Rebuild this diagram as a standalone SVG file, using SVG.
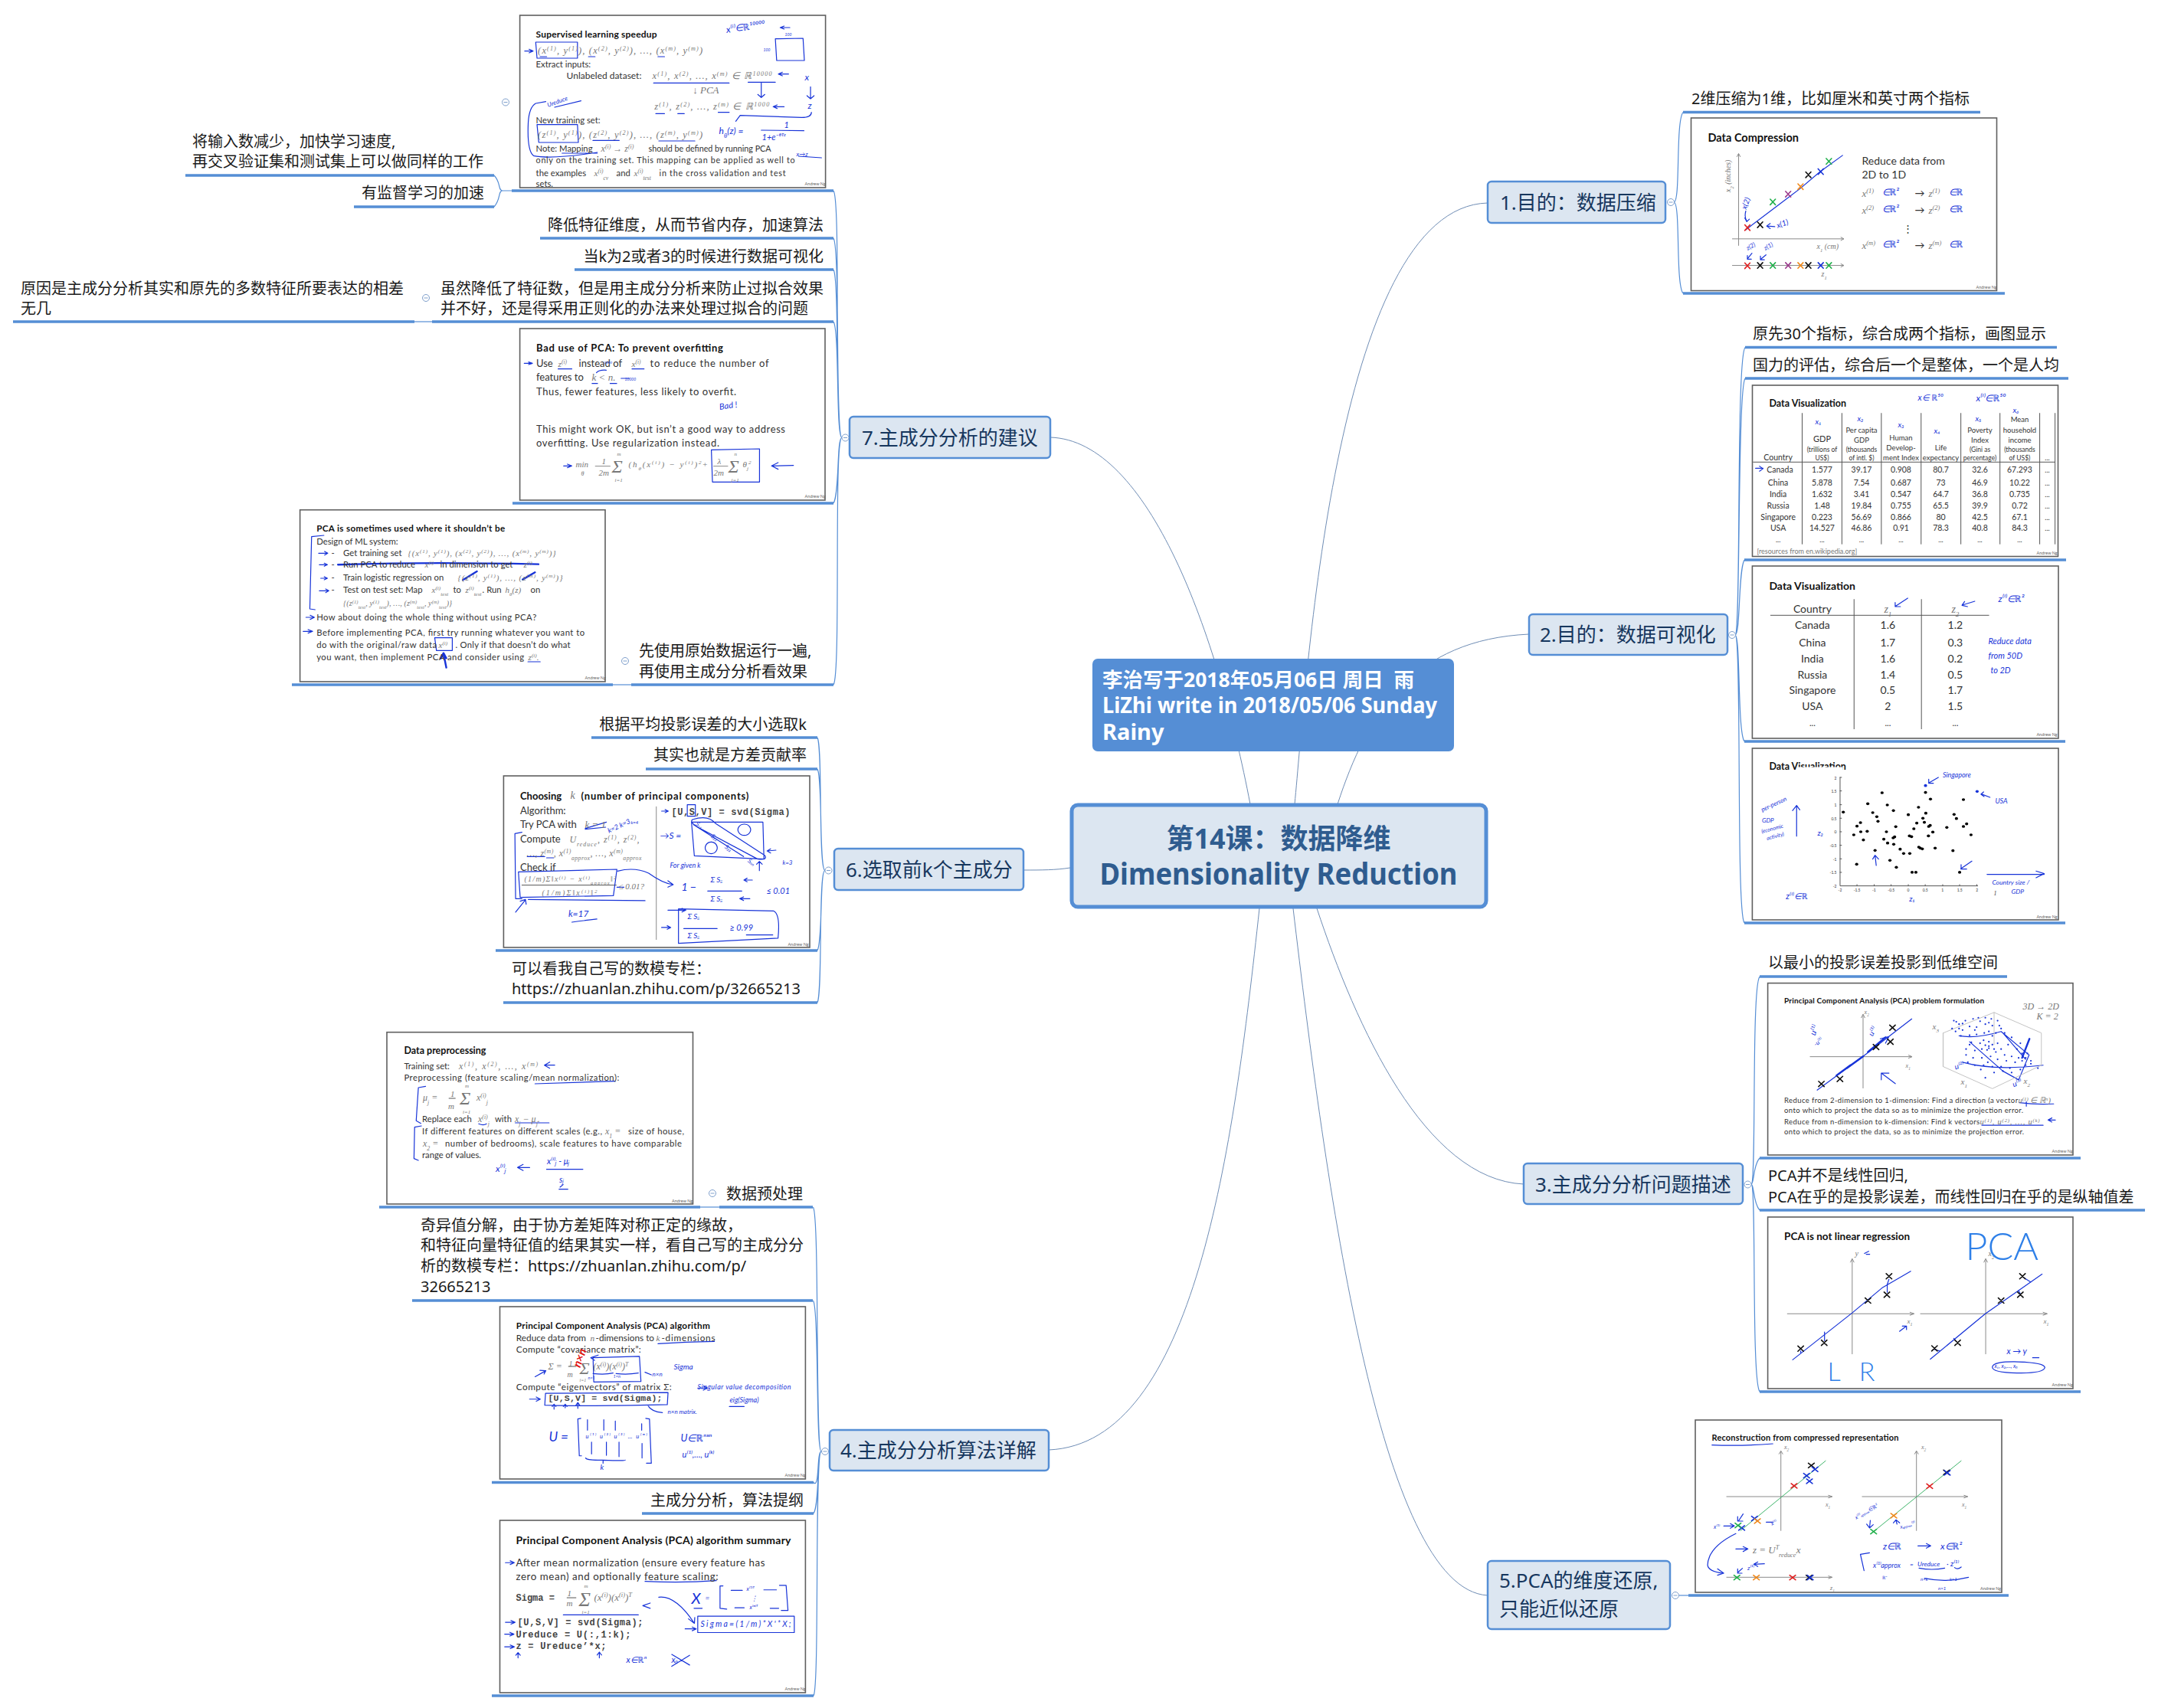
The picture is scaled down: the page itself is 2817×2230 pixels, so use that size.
<svg xmlns="http://www.w3.org/2000/svg" width="2817" height="2230" viewBox="0 0 2817 2230">
<style>
text{font-family:"Noto Sans","Noto Sans CJK SC",sans-serif}
.bg{fill:#fff}
.topic rect{fill:#dce6f1;stroke:#558ed5;stroke-width:2.5}
.topic text{font-size:26px;fill:#17375e}
.sub{font-size:20px;fill:#1a1a1a}
.ul{stroke:#558ed5;stroke-width:3.6;fill:none}
.conn path{fill:none;stroke:#6f8db5;stroke-width:1}
.brk path{fill:none;stroke:#558ed5;stroke-width:1.2}
.col circle{fill:#fff;stroke:#7fa0cc;stroke-width:1}
.col path{stroke:#7fa0cc;stroke-width:1}
.fr{fill:#fff;stroke:#5f5f5f;stroke-width:1.6}
.slide text{font-family:Lato,"Noto Sans",sans-serif;font-size:11.3px;fill:#333}
.slide text.t{font-weight:700;fill:#111}
.slide text.m{font-family:"Liberation Serif",serif;font-style:italic;fill:#777}
.slide text.mono{font-family:"Liberation Mono",monospace;font-weight:700;fill:#444}
.slide text.h{font-style:italic;fill:#1733d8;font-size:10px}
.slide text.an{font-size:5.5px;fill:#666}
.slide text.c{text-anchor:middle}
.s{font-size:65%;baseline-shift:super}
.u{font-size:65%;baseline-shift:sub}
.z *{vector-effect:non-scaling-stroke;fill:none;stroke-linecap:round;stroke-linejoin:round}
.z .hs{stroke:#1733d8;stroke-width:1.2}
.z .ax{stroke:#8a8a8a;stroke-width:1}
.z .dk{stroke:#555;stroke-width:1}
.z .k{stroke:#111;stroke-width:1.6}
.z .r{stroke:#e02020;stroke-width:1.6}
.z .g{stroke:#22b14c;stroke-width:1.6}
.z .gl{stroke:#3fb56b;stroke-width:1}
.z .pu{stroke:#9b3a8c;stroke-width:1.6}
.z .o{stroke:#f08a1d;stroke-width:1.6}
.z .b{stroke:#1733d8;stroke-width:1.6}
.z .lb{stroke:#1733d8;stroke-width:2.4}
.pts circle{r:5.500px;fill:#000}
.pts circle.bl{fill:#1733d8}
</style>
<rect class="bg" width="2817" height="2230"/>

<g id="connectors" class="conn">
<path d="M1690 1050C1705 900 1740 270 1942 265"/>
<path d="M1746 1050C1785 930 1845 835 1996 828"/>
<path d="M1632 1050C1590 830 1500 575 1371 571"/>
<path d="M1397 1133C1378 1136 1360 1136 1336 1136"/>
<path d="M1644 1186C1610 1500 1560 1885 1369 1893"/>
<path d="M1688 1186C1730 1540 1800 2075 1942 2083"/>
<path d="M1719 1186C1770 1340 1860 1540 1989 1546"/>
</g>

<g id="brackets" class="brk">
<path d="M2185 264C2194 264 2187 160 2197 146.500M2185 264C2194 264 2187 370 2197 383"/>
<path d="M2265 829C2273 829 2266 470 2278 453.500M2265 829C2272 829 2268 510 2278 494M2265 829C2272 829 2269 745 2277 731M2265 829C2272 829 2268 955 2277 968M2265 829C2274 829 2266 1190 2277 1205"/>
<path d="M2286 1546C2293 1546 2286 1290 2297 1275M2286 1546C2290 1546 2288 1522 2297 1512M2286 1546C2290 1546 2288 1570 2297 1580M2286 1546C2293 1546 2286 1800 2297 1817"/>
<path d="M2192 2083H2204"/>
<path d="M1099 571.500C1088 571 1098 262 1088 249M1099 571.500C1090 571 1097 325 1088 311M1099 571.500C1090 571 1096 365 1088 352M1099 571.500C1091 571 1096 432 1088 420M1099 571.500C1092 571 1096 645 1088 657M1099 571.500C1088 571 1098 880 1088 894"/>
<path d="M1077 1136.500C1068 1136 1074 975 1067 963M1077 1136.500C1069 1136 1074 1015 1067 1004M1077 1136.500C1070 1136 1074 1230 1067 1241M1077 1136.500C1068 1136 1074 1295 1067 1309"/>
<path d="M1072 1895C1064 1895 1070 1590 1061.500 1576M1072 1895C1065 1895 1069 1710 1061.500 1698M1072 1895C1066 1895 1070 1945 1062 1935.500M1072 1895C1066 1895 1070 1965 1062 1976M1072 1895C1063 1895 1070 2200 1062 2214"/>
<path d="M668 249H656M656 249C650 249 654 238 645 229M656 249C650 249 654 260 645 270"/>
<path d="M541 420H564"/><path d="M800 894H824.500"/><path d="M914 1576H939"/>
</g>

<g id="underlines">
<path class="ul" d="M2197 146.500H2585M2197 383H2617M2278 453.500H2685M2278 494H2700M2277 731H2697M2277 968H2696M2277 1205H2696M2297 1275H2620M2297 1512H2716M2297 1580H2800M2297 1817H2716M2204 2083H2622M668 249H1088M462 270H645M242 229H645M705 311H1088M750 352H1088M564 420H1088M17 420H541M669 657H1088M381 894H800M824 894H1088M772 963H1067M843 1004H1067M647 1241H1067M657 1309H1067M495 1576H914M939 1576H1061M538 1698H1061M642 1935.500H1062M838 1976H1062M642 2214H1062"/>
</g>

<g id="node-center"><rect x="1399" y="1051" width="541" height="133" rx="8" fill="#dce6f1" stroke="#558ed5" stroke-width="5"/>
<text x="1669" y="1108" text-anchor="middle" font-size="36" font-weight="700" fill="#2f5c8f">第14课：数据降维</text>
<text x="1669" y="1155" text-anchor="middle" font-size="40" font-weight="700" fill="#2f5c8f" textLength="467" lengthAdjust="spacingAndGlyphs">Dimensionality Reduction</text></g>
<g id="node-note"><rect x="1426" y="860" width="472" height="121" rx="7" fill="#558ed5"/>
<text x="1439" y="897" font-size="26.500" font-weight="700" fill="#fff" xml:space="preserve">李治写于2018年05月06日 周日  雨</text>
<text x="1439" y="931" font-size="29" font-weight="700" fill="#fff" textLength="437" lengthAdjust="spacingAndGlyphs">LiZhi write in 2018/05/06 Sunday</text>
<text x="1439" y="966" font-size="29" font-weight="700" fill="#fff">Rainy</text></g>

<g id="topic-1" class="topic"><rect x="1942" y="237" width="232" height="54" rx="5"/><text x="1958" y="274">1.目的：数据压缩</text></g>
<g id="topic-2" class="topic"><rect x="1996" y="802" width="259" height="53" rx="5"/><text x="2010" y="838">2.目的：数据可视化</text></g>
<g id="topic-3" class="topic"><rect x="1989" y="1519" width="286" height="53" rx="5"/><text x="2004" y="1556">3.主成分分析问题描述</text></g>
<g id="topic-4" class="topic"><rect x="1083" y="1867" width="286" height="53" rx="5"/><text x="1097" y="1903">4.主成分分析算法详解</text></g>
<g id="topic-5" class="topic"><rect x="1942" y="2038" width="238" height="89" rx="5"/><text x="1957" y="2073">5.PCA的维度还原,</text><text x="1957" y="2110">只能近似还原</text></g>
<g id="topic-6" class="topic"><rect x="1089" y="1108" width="247" height="54" rx="5"/><text x="1104" y="1145">6.选取前k个主成分</text></g>
<g id="topic-7" class="topic"><rect x="1109" y="544" width="262" height="54" rx="5"/><text x="1125" y="581">7.主成分分析的建议</text></g>

<g id="labels" transform="translate(0 1.500)">
<text class="sub" x="2208" y="134">2维压缩为1维，比如厘米和英寸两个指标</text>
<text class="sub" x="2288" y="441">原先30个指标，综合成两个指标，画图显示</text>
<text class="sub" x="2288" y="482">国力的评估，综合后一个是整体，一个是人均</text>
<text class="sub" x="2308" y="1262">以最小的投影误差投影到低维空间</text>
<text class="sub" x="2308" y="1540">PCA并不是线性回归,</text>
<text class="sub" x="2308" y="1568">PCA在乎的是投影误差，而线性回归在乎的是纵轴值差</text>
<text class="sub" x="632" y="257" text-anchor="end">有监督学习的加速</text>
<text class="sub" x="251" y="190">将输入数减少，加快学习速度,</text>
<text class="sub" x="251" y="216">再交叉验证集和测试集上可以做同样的工作</text>
<text class="sub" x="1075" y="299" text-anchor="end">降低特征维度，从而节省内存，加速算法</text>
<text class="sub" x="1075" y="340" text-anchor="end">当k为2或者3的时候进行数据可视化</text>
<text class="sub" x="575" y="382">虽然降低了特征数，但是用主成分分析来防止过拟合效果</text>
<text class="sub" x="575" y="408">并不好，还是得采用正则化的办法来处理过拟合的问题</text>
<text class="sub" x="27" y="382">原因是主成分分析其实和原先的多数特征所要表达的相差</text>
<text class="sub" x="27" y="408">无几</text>
<text class="sub" x="834" y="855">先使用原始数据运行一遍,</text>
<text class="sub" x="834" y="882">再使用主成分分析看效果</text>
<text class="sub" x="1053" y="951" text-anchor="end">根据平均投影误差的大小选取k</text>
<text class="sub" x="1053" y="991" text-anchor="end">其实也就是方差贡献率</text>
<text class="sub" x="668" y="1270">可以看我自己写的数模专栏：</text>
<text class="sub" x="668" y="1296">https://zhuanlan.zhihu.com/p/32665213</text>
<text class="sub" x="948" y="1564">数据预处理</text>
<text class="sub" x="549" y="1605">奇异值分解，由于协方差矩阵对称正定的缘故，</text>
<text class="sub" x="549" y="1631">和特征向量特征值的结果其实一样，看自己写的主成分分</text>
<text class="sub" x="549" y="1658">析的数模专栏：https://zhuanlan.zhihu.com/p/</text>
<text class="sub" x="549" y="1685">32665213</text>
<text class="sub" x="1049" y="1964" text-anchor="end">主成分分析，算法提纲</text>
</g>

<g id="toggles" class="col">
<defs><g id="tg"><circle r="4.500"/><path d="M-2.500 0H2.500"/></g></defs>
<use href="#tg" x="2181" y="264"/><use href="#tg" x="2261" y="829"/><use href="#tg" x="2281.500" y="1546.500"/><use href="#tg" x="2187" y="2083"/>
<use href="#tg" x="1103.500" y="571.500"/><use href="#tg" x="1081.500" y="1136.500"/><use href="#tg" x="1077" y="1895"/>
<use href="#tg" x="660" y="133.500"/><use href="#tg" x="556" y="389"/><use href="#tg" x="816" y="863"/><use href="#tg" x="930" y="1558"/>
</g>

<!-- Data Compression -->
<g id="slide-compression" class="slide">
<rect class="fr" x="2207.500" y="154" width="399" height="225.500"/>
<g class="z" transform="translate(2150 100) scale(.4254 .4082)">
<path class="ax" d="M281 540V248M276 256L281 246L286 256M262 519H603M595 514L604 519L595 524M262 604H603M595 599L604 604L595 609"/>
<path class="hs" d="M303 490L385 425L470 358L530 305L600 252M303 430Q298 450 306 462M300 452L306 464L314 456M392 480L368 478M378 470L367 478L378 486M322 565L308 583M308 572V584H320M365 570L348 585M348 574V586H360"/>
<path class="r" d="M300 474l16 18m0-18l-16 18M300 596l16 18m0-18l-16 18"/>
<path class="k" d="M339 465l16 18m0-18l-16 18M487 305l16 18m0-18l-16 18M339 595l16 18m0-18l-16 18M487 595l16 18m0-18l-16 18"/>
<path class="g" d="M378 392l16 18m0-18l-16 18M550 262l16 18m0-18l-16 18M378 595l16 18m0-18l-16 18M550 595l16 18m0-18l-16 18"/>
<path class="pu" d="M425 367l16 18m0-18l-16 18M425 595l16 18m0-18l-16 18"/>
<path class="o" d="M463 343l16 18m0-18l-16 18M463 595l16 18m0-18l-16 18"/>
<path class="b" d="M525 295l16 18m0-18l-16 18M525 595l16 18m0-18l-16 18"/>
</g>
<g transform="translate(2207.500 154)">
<text class="t" x="22" y="31" style="font-size:14.500px">Data Compression</text>
<text class="m" x="47" y="97" transform="rotate(-90 47 97)" style="font-size:10px" dy="4">x<tspan class="u">2</tspan> (inches)</text>
<text class="m" x="164" y="171" style="font-size:10px">x<tspan class="u">1</tspan> (cm)</text>
<text class="m" x="170" y="207" style="font-size:10px">z<tspan class="u">1</tspan></text>
<text x="223" y="61" style="font-size:14px">Reduce data from</text>
<text x="223" y="79" style="font-size:14px">2D to 1D</text>
<text class="m" x="223" y="103" style="font-size:13px">x<tspan class="s">(1)</tspan></text><text class="h" x="249" y="101" style="font-size:12px">∈ℝ²</text><text x="292" y="103" style="font-size:13px">→</text><text class="m" x="310" y="103" style="font-size:13px">z<tspan class="s">(1)</tspan></text><text class="h" x="336" y="101" style="font-size:12px">∈ℝ</text>
<text class="m" x="223" y="125" style="font-size:13px">x<tspan class="s">(2)</tspan></text><text class="h" x="249" y="123" style="font-size:12px">∈ℝ²</text><text x="292" y="125" style="font-size:13px">→</text><text class="m" x="310" y="125" style="font-size:13px">z<tspan class="s">(2)</tspan></text><text class="h" x="336" y="123" style="font-size:12px">∈ℝ</text>
<text x="276" y="149" style="font-size:13px">⋮</text>
<text class="m" x="223" y="171" style="font-size:13px">x<tspan class="s">(m)</tspan></text><text class="h" x="249" y="169" style="font-size:12px">∈ℝ²</text><text x="292" y="171" style="font-size:13px">→</text><text class="m" x="310" y="171" style="font-size:13px">z<tspan class="s">(m)</tspan></text><text class="h" x="336" y="169" style="font-size:12px">∈ℝ</text>
<text class="h" x="72" y="120" transform="rotate(-70 72 120)">x(2)</text>
<text class="h" x="113" y="144" transform="rotate(-20 113 144)">x(1)</text>
<text class="h" x="74" y="173" transform="rotate(-30 74 173)" style="font-size:8px">z(2)</text>
<text class="h" x="97" y="173" transform="rotate(-30 97 173)" style="font-size:8px">z(1)</text>
<text class="an" x="372" y="223">Andrew Ng</text>
</g></g>

<!-- Data Visualization table -->
<g id="slide-table" class="slide">
<rect class="fr" x="2287.500" y="503" width="399" height="223.500"/>
<g class="z" transform="translate(2150 100) scale(.4254 .4082)">
<path class="dk" d="M476 1077V1495M598 1077V1495M719 1077V1495M841 1077V1495M963 1077V1495M1083 1077V1495M1205 1077V1495M1252 1077V1495M326 1233H1252"/>
<path class="hs" d="M333 1253H356M345 1246L356 1254L345 1262"/>
</g>
<g transform="translate(2287.500 503)">
<text class="t" x="22" y="28" style="font-size:12.500px">Data Visualization</text>
<text class="c" x="33.600" y="98" style="font-size:10.500px">Country</text>
<text class="c" x="91" y="74" style="font-size:11px">GDP</text><text class="c" x="91" y="87" style="font-size:8.500px">(trillions of</text><text class="c" x="91" y="98" style="font-size:8.500px">US$)</text>
<text class="c" x="142.500" y="62" style="font-size:9.500px">Per capita</text><text class="c" x="142.500" y="75" style="font-size:9.500px">GDP</text><text class="c" x="142.500" y="87" style="font-size:8.500px">(thousands</text><text class="c" x="142.500" y="98" style="font-size:8.500px">of intl. $)</text>
<text class="c" x="194" y="72" style="font-size:9.500px">Human</text><text class="c" x="194" y="85" style="font-size:9.500px">Develop-</text><text class="c" x="194" y="98" style="font-size:9.500px">ment Index</text>
<text class="c" x="246" y="85" style="font-size:9.500px">Life</text><text class="c" x="246" y="98" style="font-size:9.500px">expectancy</text>
<text class="c" x="297" y="62" style="font-size:9.500px">Poverty</text><text class="c" x="297" y="75" style="font-size:9.500px">Index</text><text class="c" x="297" y="87" style="font-size:8.500px">(Gini as</text><text class="c" x="297" y="98" style="font-size:8.500px">percentage)</text>
<text class="c" x="349" y="48" style="font-size:9.500px">Mean</text><text class="c" x="349" y="62" style="font-size:9.500px">household</text><text class="c" x="349" y="75" style="font-size:9.500px">income</text><text class="c" x="349" y="87" style="font-size:8.500px">(thousands</text><text class="c" x="349" y="98" style="font-size:8.500px">of US$)</text>
<text class="c" x="385" y="98" style="font-size:9px">...</text>
<g id="tbl1rows">
<text class="c" x="36" y="113.500" style="font-size:10.500px">Canada</text><text class="c" x="91" y="113.500" style="font-size:10.500px">1.577</text><text class="c" x="142.500" y="113.500" style="font-size:10.500px">39.17</text><text class="c" x="194" y="113.500" style="font-size:10.500px">0.908</text><text class="c" x="246" y="113.500" style="font-size:10.500px">80.7</text><text class="c" x="297" y="113.500" style="font-size:10.500px">32.6</text><text class="c" x="349" y="113.500" style="font-size:10.500px">67.293</text><text class="c" x="385" y="113.500" style="font-size:9px">...</text>
<text class="c" x="33.600" y="130.600" style="font-size:10.500px">China</text><text class="c" x="91" y="130.600" style="font-size:10.500px">5.878</text><text class="c" x="142.500" y="130.600" style="font-size:10.500px">7.54</text><text class="c" x="194" y="130.600" style="font-size:10.500px">0.687</text><text class="c" x="246" y="130.600" style="font-size:10.500px">73</text><text class="c" x="297" y="130.600" style="font-size:10.500px">46.9</text><text class="c" x="349" y="130.600" style="font-size:10.500px">10.22</text><text class="c" x="385" y="130.600" style="font-size:9px">...</text>
<text class="c" x="33.600" y="145.700" style="font-size:10.500px">India</text><text class="c" x="91" y="145.700" style="font-size:10.500px">1.632</text><text class="c" x="142.500" y="145.700" style="font-size:10.500px">3.41</text><text class="c" x="194" y="145.700" style="font-size:10.500px">0.547</text><text class="c" x="246" y="145.700" style="font-size:10.500px">64.7</text><text class="c" x="297" y="145.700" style="font-size:10.500px">36.8</text><text class="c" x="349" y="145.700" style="font-size:10.500px">0.735</text><text class="c" x="385" y="145.700" style="font-size:9px">...</text>
<text class="c" x="33.600" y="160.500" style="font-size:10.500px">Russia</text><text class="c" x="91" y="160.500" style="font-size:10.500px">1.48</text><text class="c" x="142.500" y="160.500" style="font-size:10.500px">19.84</text><text class="c" x="194" y="160.500" style="font-size:10.500px">0.755</text><text class="c" x="246" y="160.500" style="font-size:10.500px">65.5</text><text class="c" x="297" y="160.500" style="font-size:10.500px">39.9</text><text class="c" x="349" y="160.500" style="font-size:10.500px">0.72</text><text class="c" x="385" y="160.500" style="font-size:9px">...</text>
<text class="c" x="33.600" y="175.500" style="font-size:10.500px">Singapore</text><text class="c" x="91" y="175.500" style="font-size:10.500px">0.223</text><text class="c" x="142.500" y="175.500" style="font-size:10.500px">56.69</text><text class="c" x="194" y="175.500" style="font-size:10.500px">0.866</text><text class="c" x="246" y="175.500" style="font-size:10.500px">80</text><text class="c" x="297" y="175.500" style="font-size:10.500px">42.5</text><text class="c" x="349" y="175.500" style="font-size:10.500px">67.1</text><text class="c" x="385" y="175.500" style="font-size:9px">...</text>
<text class="c" x="33.600" y="190" style="font-size:10.500px">USA</text><text class="c" x="91" y="190" style="font-size:10.500px">14.527</text><text class="c" x="142.500" y="190" style="font-size:10.500px">46.86</text><text class="c" x="194" y="190" style="font-size:10.500px">0.91</text><text class="c" x="246" y="190" style="font-size:10.500px">78.3</text><text class="c" x="297" y="190" style="font-size:10.500px">40.8</text><text class="c" x="349" y="190" style="font-size:10.500px">84.3</text><text class="c" x="385" y="190" style="font-size:9px">...</text>
<text class="c" x="33.600" y="205" style="font-size:9px">...</text><text class="c" x="91" y="205" style="font-size:9px">...</text><text class="c" x="142.500" y="205" style="font-size:9px">...</text><text class="c" x="194" y="205" style="font-size:9px">...</text><text class="c" x="246" y="205" style="font-size:9px">...</text><text class="c" x="297" y="205" style="font-size:9px">...</text><text class="c" x="349" y="205" style="font-size:9px">...</text>
</g>
<text x="6" y="220" style="font-size:9px;fill:#777">[resources from en.wikipedia.org]</text>
<text class="h" x="82" y="51">x₁</text><text class="h" x="137" y="47">x₂</text><text class="h" x="190" y="55">x₃</text><text class="h" x="237" y="63">x₄</text><text class="h" x="291" y="47">x₅</text><text class="h" x="340" y="36">x₆</text>
<text class="h" x="216" y="20" style="font-size:11px">x∈ ℝ⁵⁰</text><text class="h" x="292" y="21" style="font-size:12px">x⁽ⁱ⁾∈ℝ⁵⁰</text>
<text class="an" x="371" y="221">Andrew Ng</text>
</g></g>

<!-- Data Visualization z table -->
<g id="slide-z-table" class="slide">
<rect class="fr" x="2287.400" y="739" width="399.600" height="225"/>
<g class="z" transform="translate(2220 720) scale(.3807 .3333)">
<path class="dk" d="M526 188V695M757 188V695M240 250H988"/>
<path class="hs" d="M710 183L667 215M667 200V216H685M940 195L897 210M905 196L896 211L915 216"/>
</g>
<g transform="translate(2287.400 739)">
<text class="t" x="22" y="30.700" style="font-size:14px">Data Visualization</text>
<text class="c" x="78.500" y="61" style="font-size:14px">Country</text><text class="m c" x="177" y="61" style="font-size:14px">z<tspan class="u">1</tspan></text><text class="m c" x="265" y="61" style="font-size:14px">z<tspan class="u">2</tspan></text>
<text class="c" x="78.500" y="81.700" style="font-size:14px">Canada</text><text class="c" x="177" y="81.700" style="font-size:14px">1.6</text><text class="c" x="265" y="81.700" style="font-size:14px">1.2</text>
<text class="c" x="78.500" y="105" style="font-size:14px">China</text><text class="c" x="177" y="105" style="font-size:14px">1.7</text><text class="c" x="265" y="105" style="font-size:14px">0.3</text>
<text class="c" x="78.500" y="126" style="font-size:14px">India</text><text class="c" x="177" y="126" style="font-size:14px">1.6</text><text class="c" x="265" y="126" style="font-size:14px">0.2</text>
<text class="c" x="78.500" y="146.700" style="font-size:14px">Russia</text><text class="c" x="177" y="146.700" style="font-size:14px">1.4</text><text class="c" x="265" y="146.700" style="font-size:14px">0.5</text>
<text class="c" x="78.500" y="167" style="font-size:14px">Singapore</text><text class="c" x="177" y="167" style="font-size:14px">0.5</text><text class="c" x="265" y="167" style="font-size:14px">1.7</text>
<text class="c" x="78.500" y="188" style="font-size:14px">USA</text><text class="c" x="177" y="188" style="font-size:14px">2</text><text class="c" x="265" y="188" style="font-size:14px">1.5</text>
<text class="c" x="78.500" y="209">...</text><text class="c" x="177" y="209">...</text><text class="c" x="265" y="209">...</text>
<text class="h" x="321" y="47" style="font-size:12px">z⁽ⁱ⁾∈ℝ²</text>
<text class="h" x="308" y="102" style="font-size:11px">Reduce data</text><text class="h" x="308" y="121" style="font-size:11px">from  50D</text><text class="h" x="311" y="140" style="font-size:11px">to  2D</text>
<text class="an" x="371" y="222">Andrew Ng</text>
</g></g>

<!-- Scatter -->
<g id="slide-scatter" class="slide">
<rect class="fr" x="2287.400" y="977" width="399.600" height="224"/>
<g transform="translate(2287.400 977)">
<text class="t" x="22" y="28" style="font-size:12.500px">Data Visualization</text>
<rect x="58" y="24.500" width="60" height="8" fill="#fff"/>
</g>
<g class="z" transform="translate(2220 720) scale(.3807 .3333)">
<path class="dk" d="M478 885V1310H950M478 885h5M478 938h5M478 992h5M478 1045h5M478 1098h5M478 1151h5M478 1204h5M478 1257h5M536 1310v-5M595 1310v-5M653 1310v-5M712 1310v-5M770 1310v-5M830 1310v-5M888 1310v-5M947 1310v-5"/>
<path class="hs" d="M329 1115V995M315 1015L329 995L340 1012M815 885L782 907M782 892V908H798M992 963L962 950M970 942L961 951L972 960M602 1230L598 1190M590 1205L598 1190L610 1205M930 1213L892 1243M893 1227V1244H912M982 1265H1178M1150 1252L1178 1262L1150 1278"/>
</g>
<g class="pts" transform="translate(2220 720) scale(.3807 .3333)">
<circle cx="489" cy="1021"/><circle cx="536" cy="1076"/><circle cx="548" cy="1062"/><circle cx="525" cy="1110"/><circle cx="549" cy="1098"/><circle cx="571" cy="1096"/><circle cx="558" cy="1130"/><circle cx="573" cy="988"/><circle cx="590" cy="1023"/><circle cx="604" cy="1039"/><circle cx="608" cy="1057"/><circle cx="622" cy="945"/><circle cx="640" cy="993"/><circle cx="661" cy="1015"/><circle cx="669" cy="1078"/><circle cx="637" cy="1098"/><circle cx="628" cy="1127"/><circle cx="641" cy="1142"/><circle cx="662" cy="1147"/><circle cx="660" cy="1122"/><circle cx="665" cy="1118"/><circle cx="684" cy="1166"/><circle cx="696" cy="1183"/><circle cx="717" cy="1183"/><circle cx="598" cy="1171"/><circle cx="535" cy="1225"/><circle cx="649" cy="1210"/><circle cx="671" cy="1237"/><circle cx="725" cy="1257"/><circle cx="738" cy="1257"/><circle cx="712" cy="1031"/><circle cx="716" cy="1114"/><circle cx="723" cy="1117"/><circle cx="731" cy="1086"/><circle cx="741" cy="1064"/><circle cx="747" cy="1002"/><circle cx="762" cy="1045"/><circle cx="767" cy="1061"/><circle cx="772" cy="1025"/><circle cx="788" cy="970"/><circle cx="771" cy="944"/><circle cx="782" cy="1077"/><circle cx="787" cy="1073"/><circle cx="796" cy="1099"/><circle cx="781" cy="1114"/><circle cx="748" cy="1158"/><circle cx="753" cy="1162"/><circle cx="760" cy="1165"/><circle cx="804" cy="1162"/><circle cx="844" cy="1081"/><circle cx="869" cy="1030"/><circle cx="877" cy="1046"/><circle cx="901" cy="972"/><circle cx="901" cy="1077"/><circle cx="912" cy="1067"/><circle cx="927" cy="1110"/><circle cx="865" cy="1172"/><circle cx="888" cy="1257"/>
<circle class="bl" cx="771" cy="917"/><circle class="bl" cx="948" cy="940"/>
</g>
<g transform="translate(2287.400 977)">
<text x="110" y="41" text-anchor="end" style="font-size:5px">2</text><text x="110" y="58" text-anchor="end" style="font-size:5px">1.5</text><text x="110" y="76" text-anchor="end" style="font-size:5px">1</text><text x="110" y="94" text-anchor="end" style="font-size:5px">0.5</text><text x="110" y="111" text-anchor="end" style="font-size:5px">0</text><text x="110" y="129" text-anchor="end" style="font-size:5px">-0.5</text><text x="110" y="147" text-anchor="end" style="font-size:5px">-1</text><text x="110" y="164" text-anchor="end" style="font-size:5px">-1.5</text><text x="110" y="182" text-anchor="end" style="font-size:5px">-2</text>
<text class="c" x="114.600" y="187" style="font-size:5px">-2</text><text class="c" x="136.700" y="187" style="font-size:5px">-1.5</text><text class="c" x="159" y="187" style="font-size:5px">-1</text><text class="c" x="181.300" y="187" style="font-size:5px">-0.5</text><text class="c" x="203.600" y="187" style="font-size:5px">0</text><text class="c" x="225.800" y="187" style="font-size:5px">0.5</text><text class="c" x="248.300" y="187" style="font-size:5px">1</text><text class="c" x="270.800" y="187" style="font-size:5px">1.5</text><text class="c" x="293.200" y="187" style="font-size:5px">2</text>
<text class="h" x="13" y="83" transform="rotate(-25 13 83)" style="font-size:8px">per-person</text>
<text class="h" x="12.600" y="97" style="font-size:8px">GDP</text>
<text class="h" x="12.600" y="111" transform="rotate(-15 12.600 111)" style="font-size:7px">(economic</text>
<text class="h" x="19.400" y="120" transform="rotate(-15 19.400 120)" style="font-size:7px">activity)</text>
<text class="h" x="85" y="114">z₂</text>
<text class="h" x="248.600" y="38" style="font-size:9px">Singapore</text>
<text class="h" x="317" y="72" style="font-size:9px">USA</text>
<text class="h" x="43.800" y="197" style="font-size:11px">z⁽ⁱ⁾∈ℝ</text>
<text class="h" x="204.800" y="200">z₁</text>
<text class="h" x="313" y="178" style="font-size:8.500px">Country size /</text>
<text class="h" x="338" y="190" style="font-size:8.500px">GDP</text>
<text class="m" x="315" y="192" style="font-size:8px;fill:#444">1</text>
<text class="an" x="371" y="222">Andrew Ng</text>
</g></g>

<!-- PCA problem formulation -->
<g id="slide-problem" class="slide">
<rect class="fr" x="2307.600" y="1283.600" width="398.400" height="224.400"/>
<g class="z" transform="translate(2100 1230) scale(.4573 .3827)">
<path class="ax" d="M726 498V248M721 258L726 246L731 258M575 391H865M856 386L866 391L856 396"/>
<path class="hs" d="M595 505L726 390L865 262M775 330L800 322L790 345M778 470V447H800M778 447L818 483M1000 320Q1050 330 1120 305L1200 385L1170 470M1010 410Q1100 440 1240 420M1030 340L1125 440L1170 470M1125 310L1190 400M1172 548Q1220 555 1270 552M1065 625H1240M1275 607H1255M1265 600L1254 607L1265 614M1192 560V545"/>
<path class="lb" d="M680 430L726 390M650 455L690 420M790 325L740 375M1201 330L1180 395"/>
<path class="k" d="M802 283l16 18m0-18l-16 18M796 331l16 18m0-18l-16 18M755 349l16 18m0-18l-16 18M652 458l16 18m0-18l-16 18M599 475l16 18m0-18l-16 18"/>
<path class="ax" d="M955 310L1100 240L1235 310V420L1095 500L955 425ZM955 310V425M1100 240V350" style="stroke:#c4c4c4"/>
<path class="lb" style="stroke-width:2.200" d="M985 268h.1M1000 280h.1M1018 268h.1M1040 262h.1M1055 258h.1M1075 258h.1M1092 262h.1M1110 268h.1M1120 295h.1M1095 285h.1M1075 280h.1M1050 290h.1M1030 288h.1M1010 300h.1M990 305h.1M980 295h.1M1005 320h.1M1030 318h.1M1050 315h.1M1072 310h.1M1095 320h.1M1130 310h.1M1150 325h.1M1175 345h.1M1165 365h.1M1140 350h.1M1110 345h.1M1085 340h.1M1060 345h.1M1035 342h.1M1020 365h.1M1045 370h.1M1065 365h.1M1085 362h.1M1105 375h.1M1130 385h.1M1150 390h.1M1170 395h.1M1195 380h.1M1205 405h.1M1225 430h.1M1190 420h.1M1160 410h.1M1135 405h.1M1110 400h.1M1090 390h.1M1065 395h.1M1040 395h.1M1020 385h.1M1025 410h.1M1045 420h.1M1070 420h.1M1095 425h.1M1120 425h.1M1145 430h.1M1175 435h.1M1205 415h.1M1075 463h.1M1100 445h.1M1125 440h.1M1150 445h.1M1062 435h.1M1082 410h.1M1030 350h.1M1000 295h.1M1060 270h.1M1085 275h.1M1115 285h.1M1105 310h.1M1085 305h.1M1070 335h.1M1095 350h.1M1120 365h.1M1180 380h.1M1190 395h.1M1180 405h.1M1075 352h.1M1085 355h.1M1080 368h.1M1100 365h.1M1045 300h.1M1010 278h.1M992 272h.1"/>
</g>
<g transform="translate(2307.600 1283.600)">
<text class="t" x="21.500" y="26" style="font-size:10px" textLength="261">Principal Component Analysis (PCA) problem formulation</text>
<text class="m" x="333" y="34" style="font-size:12px">3D → 2D</text><text class="m" x="351" y="47" style="font-size:12px">K = 2</text>
<text class="m" x="126" y="40" style="font-size:8px">x<tspan class="u">2</tspan></text><text class="m" x="180" y="110" style="font-size:8px">x<tspan class="u">1</tspan></text>
<text class="m" x="215" y="60" style="font-size:11px">x<tspan class="u">3</tspan></text><text class="m" x="252" y="132" style="font-size:11px">x<tspan class="u">1</tspan></text><text class="m" x="334" y="131" style="font-size:11px">x<tspan class="u">2</tspan></text>
<text class="h" x="62" y="69" transform="rotate(-70 62 69)" style="font-size:11px">u⁽¹⁾</text><text class="h" x="63" y="83" transform="rotate(-40 63 83)" style="font-size:8px">-u⁽¹⁾</text><text class="h" x="137" y="70" transform="rotate(-60 137 70)">u⁽¹⁾</text>
<text class="h" x="245" y="113" transform="rotate(-15 245 113)">u⁽²⁾</text><text class="h" x="321" y="136" transform="rotate(-20 321 136)">u⁽³⁾</text>
<text x="21.500" y="156" style="font-size:9.500px" textLength="305">Reduce from 2-dimension to 1-dimension: Find a direction (a vector</text><text class="m" x="327" y="156" style="font-size:10.500px">u<tspan class="s">(1)</tspan> ∈ ℝ<tspan class="s">n</tspan>)</text>
<text x="21.500" y="169" style="font-size:9.500px" textLength="312">onto which to project the data so as to minimize the projection error.</text>
<text x="21.500" y="184" style="font-size:9.500px" textLength="255">Reduce from n-dimension to k-dimension: Find k vectors</text><text class="m" x="277" y="184" style="font-size:10.500px" textLength="78">u<tspan class="s">(1)</tspan>, u<tspan class="s">(2)</tspan>, …, u<tspan class="s">(k)</tspan></text>
<text x="21.500" y="197" style="font-size:9.500px" textLength="313">onto which to project the data, so as to minimize the projection error.</text>
<text class="an" x="371" y="221">Andrew Ng</text>
</g></g>

<!-- PCA is not linear regression -->
<g id="slide-not-lr" class="slide">
<rect class="fr" x="2307.600" y="1589" width="398.400" height="224"/>
<g class="z" transform="translate(2100 1230) scale(.4573 .3827)">
<path class="ax" d="M695 1405V1082M690 1092L695 1080L700 1092M510 1268H870M860 1263L872 1268L860 1273M1076 1405V1082M1071 1092L1076 1080L1081 1092M890 1268H1250M1240 1263L1252 1268L1240 1273"/>
<path class="hs" d="M525 1425L695 1265L780 1180L862 1123M918 1423L1075 1268L1237 1133M800 1150L795 1168M795 1195V1170M616 1360V1330M548 1395V1400M1185 1145L1205 1160M1175 1200L1170 1190M990 1360L985 1352M930 1390L945 1395M735 1065H745M730 1062L742 1055M830 1328L850 1310M838 1310H850V1322M1095 1450Q1095 1430 1170 1432Q1245 1435 1245 1452Q1240 1472 1165 1470Q1095 1468 1095 1450ZM1210 1418H1228"/>
<path class="k" d="M792 1131l16 18m0-18l-16 18M786 1194l16 18m0-18l-16 18M732 1214l16 18m0-18l-16 18M607 1358l16 18m0-18l-16 18M540 1378l16 18m0-18l-16 18M1173 1131l16 18m0-18l-16 18M1167 1194l16 18m0-18l-16 18M1112 1214l16 18m0-18l-16 18M988 1358l16 18m0-18l-16 18M922 1377l16 18m0-18l-16 18"/>
</g>
<g transform="translate(2307.600 1589)">
<text class="t" x="21.500" y="30" style="font-size:13.500px">PCA is not linear regression</text>
<text class="m" x="114" y="51" style="font-size:10px">y</text><text class="m" x="182" y="139" style="font-size:9px">x<tspan class="u">1</tspan></text><text class="m" x="288" y="51" style="font-size:10px">x<tspan class="u">2</tspan></text><text class="m" x="360" y="139" style="font-size:9px">x<tspan class="u">1</tspan></text>
<text x="258" y="56" style="font-size:50px;fill:#2f80e8;font-weight:300">PCA</text>
<text x="78" y="214" style="font-size:34px;fill:#2f80e8;font-weight:300">L<tspan x="110"> R</tspan></text>
<text class="h" x="312" y="179" style="font-size:11px">x → y</text>
<text class="h" x="296" y="197" style="font-size:7px">x₁, x₂,…, xₙ</text>
<text class="an" x="371" y="221">Andrew Ng</text>
</g></g>

<!-- Reconstruction -->
<g id="slide-reconstruction" class="slide">
<rect class="fr" x="2213" y="1854" width="400" height="225"/>
<g class="z" transform="translate(1900 1830) scale(.4783 .3333)">
<path class="ax" d="M888 505V195M883 205L888 193L893 205M740 372H1027M1018 367L1028 372L1018 377M1258 505V195M1253 205L1258 193L1263 205M1110 372H1397M1388 367L1398 372L1388 377M740 688H1027M1018 683L1028 688L1018 693"/>
<path class="gl" d="M778 505L1010 232M1140 510L1380 232"/>
<path class="hs" d="M700 170Q780 175 866 165M765 577H798M785 568L798 577L785 587M765 517Q690 570 688 640Q690 665 730 672M715 655L732 672L715 680M732 487H760M750 478L761 487L750 496M785 440L772 468M770 450V468H784M848 472H866M1132 465L1130 495M1122 480L1130 495L1140 482M1205 480L1202 465M1195 475L1202 463L1212 475M770 670L783 653M770 655V672H782M843 635L815 637M825 628L814 637L825 646M1262 565H1295M1285 556L1297 565L1285 574M1130 592L1105 598L1115 662M1265 652Q1300 662 1335 652M1362 650Q1370 660 1380 648M1280 692Q1340 710 1400 688"/>
<path class="k" d="M963 241l16 18m0-18l-16 18M1332 268l16 18m0-18l-16 18M957 680l16 18m0-18l-16 18"/>
<path class="b" d="M973 256l16 18m0-18l-16 18M950 281l16 18m0-18l-16 18M958 303l16 18m0-18l-16 18M808 449l16 18m0-18l-16 18M773 486l16 18m0-18l-16 18M1334 270l16 18m0-18l-16 18M960 680l16 18m0-18l-16 18"/>
<path class="r" d="M916 321l16 18m0-18l-16 18M1286 322l16 18m0-18l-16 18M912 680l16 18m0-18l-16 18"/>
<path class="o" d="M816 459l16 18m0-18l-16 18M1188 438l16 18m0-18l-16 18M813 680l16 18m0-18l-16 18"/>
<path class="g" d="M763 476l16 18m0-18l-16 18M1133 500l16 18m0-18l-16 18M760 680l16 18m0-18l-16 18"/>
</g>
<g transform="translate(2213 1854)">
<text class="t" x="21.500" y="27" style="font-size:11px" textLength="244">Reconstruction from compressed representation</text>
<text class="m" x="116" y="38" style="font-size:8px">x<tspan class="u">2</tspan></text><text class="m" x="295" y="38" style="font-size:8px">x<tspan class="u">2</tspan></text><text class="m" x="170" y="113" style="font-size:8px">x<tspan class="u">1</tspan></text><text class="m" x="348" y="113" style="font-size:8px">x<tspan class="u">1</tspan></text>
<text class="m" x="75" y="174" style="font-size:13px">z = U<tspan class="s">T</tspan><tspan class="u">reduce</tspan>x</text>
<text class="h" x="24" y="142" style="font-size:7px">x⁽¹⁾</text><text class="h" x="100" y="138" transform="rotate(-25 100 138)" style="font-size:7px">x⁽¹⁾</text>
<text class="h" x="68" y="196" style="font-size:8px">z⁽¹⁾</text>
<text class="m" x="176" y="222" style="font-size:8px">z<tspan class="u">1</tspan></text>
<text class="h" x="210" y="130" transform="rotate(-30 210 130)" style="font-size:7px">x⁽¹⁾ₐₚₚᵣₒₓ∈ℝ²</text>
<text class="h" x="268" y="142" transform="rotate(-15 268 142)" style="font-size:7px">xₐₚₚᵣₒₓ⁽²⁾</text>
<text class="h" x="245" y="169" style="font-size:12px">z∈ℝ</text><text class="h" x="320" y="169" style="font-size:12px">x∈ℝ²</text>
<text class="h" x="232" y="193" style="font-size:9px">x⁽¹⁾approx</text>
<text class="h" x="280" y="191" style="font-size:8px">=</text>
<text class="h" x="290" y="191" style="font-size:8.500px">Ureduce</text>
<text class="h" x="328" y="191">· z⁽¹⁾</text>
<text class="h" x="244" y="208" style="font-size:6px">ℝⁿ</text>
<text class="h" x="294" y="210" style="font-size:6px">n×k</text><text class="h" x="332" y="210" style="font-size:6px">k×1</text><text class="h" x="317" y="222" style="font-size:6px">n×1</text>
<text class="an" x="372" y="222">Andrew Ng</text>
</g></g>

<!-- Supervised -->
<g id="slide-supervised" class="slide">
<rect class="fr" x="678.600" y="20" width="399" height="225"/>
<g class="z" transform="translate(220 0) scale(.574 .3333)">
<path class="hs" d="M835 165H930V228H838ZM810 200H828M820 193L829 200L820 207M845 222H860M955 222H970M1113 222H1128M1380 152L1443 150L1446 237L1383 237ZM1413 108H1392M1400 102L1391 108L1400 114M1103 325L1275 325M1318 322H1380M1348 325V380M1340 370L1348 382L1356 370M1410 290H1388M1396 283L1387 290L1396 297M1460 340V385M1452 375L1460 387L1468 375M1400 418H1376M1384 411L1375 418L1384 425M1462 440Q1462 460 1440 460L1300 452L1290 475M878 420L938 395M858 398L835 405Q820 420 818 480Q815 590 830 610Q870 625 975 597M838 488L930 488L932 558L842 558ZM1108 445H1128M1158 445H1173M1250 440H1275M965 550H1025M1115 552H1197M1348 510L1445 512M1433 612L1485 618M895 600H975"/>
</g>
<g transform="translate(678.600 20)">
<text class="t" x="21" y="28.700" style="font-size:12px" textLength="158">Supervised learning speedup</text>
<text class="m" x="23.500" y="49.700" style="font-size:12.500px" textLength="215">(x<tspan class="s">(1)</tspan>, y<tspan class="s">(1)</tspan>), (x<tspan class="s">(2)</tspan>, y<tspan class="s">(2)</tspan>), …, (x<tspan class="s">(m)</tspan>, y<tspan class="s">(m)</tspan>)</text>
<text x="21" y="68">Extract inputs:</text>
<text x="61" y="83" style="font-size:12px">Unlabeled dataset:</text>
<text class="m" x="173" y="83" style="font-size:12.500px" textLength="156">x<tspan class="s">(1)</tspan>, x<tspan class="s">(2)</tspan>, …, x<tspan class="s">(m)</tspan> ∈ ℝ<tspan class="s">10000</tspan></text>
<text class="m" x="225.600" y="102" style="font-size:13px">↓ PCA</text>
<text class="m" x="175.600" y="123" style="font-size:12.500px" textLength="150">z<tspan class="s">(1)</tspan>, z<tspan class="s">(2)</tspan>, …, z<tspan class="s">(m)</tspan> ∈ ℝ<tspan class="s">1000</tspan></text>
<text x="21" y="140.600">New training set:</text>
<text class="m" x="23.500" y="159.700" style="font-size:12.500px" textLength="215">(z<tspan class="s">(1)</tspan>, y<tspan class="s">(1)</tspan>), (z<tspan class="s">(2)</tspan>, y<tspan class="s">(2)</tspan>), …, (z<tspan class="s">(m)</tspan>, y<tspan class="s">(m)</tspan>)</text>
<text x="21" y="178">Note: Mapping</text><text class="m" x="106" y="178" style="font-size:12px">x<tspan class="s">(i)</tspan> → z<tspan class="s">(i)</tspan></text><text x="168" y="178" style="font-size:10.800px" textLength="160">should be defined by running PCA</text>
<text x="21" y="193" style="font-size:10.800px" textLength="338">only on the training set. This mapping can be applied as well to</text>
<text x="21" y="209.700">the examples</text><text class="m" x="97" y="209.700">x<tspan class="s">(i)</tspan><tspan class="u">cv</tspan></text><text x="126" y="209.700">and</text><text class="m" x="149" y="209.700">x<tspan class="s">(i)</tspan><tspan class="u">test</tspan></text><text x="182" y="209.700" style="font-size:10.800px" textLength="165">in the cross validation and test</text>
<text x="21" y="224">sets.</text>
<text class="h" x="270" y="23" transform="rotate(-8 270 23)" style="font-size:12px">x⁽ⁱ⁾∈ℝ¹⁰⁰⁰⁰</text>
<text class="h" x="346" y="27" style="font-size:5px">100</text><text class="h" x="318" y="47" style="font-size:5px">100</text>
<text class="h" x="372" y="85" style="font-size:12px">x</text><text class="h" x="376" y="122" style="font-size:12px">z</text>
<text class="h" x="37" y="120" transform="rotate(-20 37 120)" style="font-size:8px">Ureduce</text>
<text class="h" x="260" y="155" style="font-size:12px">h<tspan class="u">θ</tspan>(z) =</text>
<text class="h" x="345" y="147" style="font-size:11px">1</text><text class="h" x="316" y="163" style="font-size:11px">1+e⁻ᶿᵀᶻ</text>
<text class="h" x="361" y="184" style="font-size:8px">x→z</text>
<text class="an" x="372" y="222">Andrew Ng</text>
</g></g>

<!-- Bad use -->
<g id="slide-bad-use" class="slide">
<rect class="fr" x="678.600" y="429" width="398.400" height="224"/>
<g class="z" transform="translate(0 340) scale(.7143 .3333)">
<path class="hs" d="M1300 742L1388 738L1388 868L1302 868ZM1450 803L1412 805M1422 792L1410 805L1422 818M1030 805H1044M1037 798L1045 805L1037 812M958 403H972M966 398L973 403L966 408M1020 425H1045M1155 425H1177M1082 482H1092M1115 482H1127M1135 462H1150M1090 440Q1095 428 1108 430"/>
<path class="ax" d="M1088 806H1115M1304 806H1330"/>
</g>
<g transform="translate(678.600 429)">
<text class="t" x="21.400" y="30" style="font-size:13px" textLength="244">Bad use of PCA: To prevent overfitting</text>
<text x="21.400" y="50" style="font-size:13px">Use</text><text class="m" x="50" y="50">z<tspan class="s">(i)</tspan></text><text x="77" y="50" style="font-size:13px">instead of</text><text class="m" x="146" y="50">x<tspan class="s">(i)</tspan></text><text x="170" y="50" style="font-size:13px" textLength="155">to reduce the number of</text>
<text x="21.400" y="68" style="font-size:13px">features to</text><text class="m" x="94" y="68" style="font-size:13px">k &lt; n.</text>
<text x="21.400" y="87" style="font-size:13px" textLength="261">Thus, fewer features, less likely to overfit.</text>
<text x="21.400" y="135.700" style="font-size:13px" textLength="325">This might work OK, but isn’t a good way to address</text>
<text x="21.400" y="153.700" style="font-size:13px" textLength="239">overfitting. Use regularization instead.</text>
<text class="m" x="73" y="181" style="font-size:11px">min</text><text class="m" x="80" y="192" style="font-size:8px">θ</text>
<text class="m" x="107" y="177" style="font-size:11px">1</text><text class="m" x="103" y="192" style="font-size:11px">2m</text>
<text class="m" x="120" y="188" style="font-size:24px">Σ</text><text class="m" x="127" y="166" style="font-size:7px">m</text><text class="m" x="124" y="200" style="font-size:7px">i=1</text>
<text class="m" x="142" y="181" style="font-size:11px" textLength="95">(h<tspan class="u">θ</tspan>(x<tspan class="s">(i)</tspan>) − y<tspan class="s">(i)</tspan>)<tspan class="s">2</tspan></text>
<text class="m" x="238" y="181" style="font-size:11px">+</text>
<text class="m" x="258" y="177" style="font-size:11px">λ</text><text class="m" x="253" y="192" style="font-size:11px">2m</text>
<text class="m" x="272" y="188" style="font-size:24px">Σ</text><text class="m" x="280" y="166" style="font-size:7px">n</text><text class="m" x="276" y="200" style="font-size:7px">j=1</text>
<text class="m" x="291" y="181" style="font-size:11px">θ<tspan class="u">j</tspan><tspan class="s">2</tspan></text>
<text class="h" x="261" y="106" transform="rotate(-8 261 106)" style="font-size:11px">Bad !</text>
<text class="h" x="110" y="46" style="font-size:4.500px">1000</text><text class="h" x="137" y="68" style="font-size:5px">10000</text>
<text class="an" x="372" y="221">Andrew Ng</text>
</g></g>

<!-- PCA sometimes -->
<g id="slide-shouldnt" class="slide">
<rect class="fr" x="391.600" y="665.700" width="398.400" height="224.300"/>
<g class="z" transform="translate(370 640) scale(.4592 .3333)">
<path class="hs" d="M115 177L80 182L75 465L90 468M100 247H125M117 240L126 247L117 254M102 292H124M116 286L125 292L116 298M106 345H124M116 339L125 345L116 351M102 394H128M120 387L129 394L120 401M64 498H87M76 490L88 498L76 506M56 553H82M70 546L83 553L70 560M430 578H480V628H435ZM695 672H730"/>
<path class="lb" d="M155 292Q400 280 725 290M463 695L455 640M447 660L455 638L463 658M510 352L550 318M680 350L715 322"/>
</g>
<g transform="translate(391.600 665.700)">
<text class="t" x="21.600" y="28.300" style="font-size:11.700px" textLength="246">PCA is sometimes used where it shouldn’t be</text>
<text x="21.600" y="45">Design of ML system:</text>
<text x="41" y="60.300">-</text><text x="56.500" y="60.300">Get training set</text><text class="m" x="141" y="60.300" style="font-size:11px" textLength="193">{(x<tspan class="s">(1)</tspan>, y<tspan class="s">(1)</tspan>), (x<tspan class="s">(2)</tspan>, y<tspan class="s">(2)</tspan>), …, (x<tspan class="s">(m)</tspan>, y<tspan class="s">(m)</tspan>)}</text>
<text x="41" y="75.700">-</text><text x="56.500" y="75.700">Run PCA to reduce</text><text class="m" x="163" y="75.700" style="font-size:11px">x<tspan class="s">(i)</tspan></text><text x="183" y="75.700">in dimension to get</text><text class="m" x="292" y="75.700" style="font-size:11px">z<tspan class="s">(i)</tspan></text>
<text x="41" y="92">-</text><text x="56.500" y="92">Train logistic regression on</text><text class="m" x="206" y="92" style="font-size:11px" textLength="137">{(z<tspan class="s">(1)</tspan>, y<tspan class="s">(1)</tspan>), …, (z<tspan class="s">(m)</tspan>, y<tspan class="s">(m)</tspan>)}</text>
<text x="41" y="108">-</text><text x="56.500" y="108">Test on test set: Map</text><text class="m" x="172" y="108" style="font-size:11px">x<tspan class="s">(i)</tspan><tspan class="u">test</tspan></text><text x="200" y="108">to</text><text class="m" x="216" y="108" style="font-size:11px">z<tspan class="s">(i)</tspan><tspan class="u">test</tspan></text><text x="238" y="108">. Run</text><text class="m" x="268" y="108" style="font-size:11px">h<tspan class="u">θ</tspan>(z)</text><text x="301" y="108">on</text>
<text class="m" x="56.500" y="125" style="font-size:10px" textLength="142">{(z<tspan class="s">(1)</tspan><tspan class="u">test</tspan>, y<tspan class="s">(1)</tspan><tspan class="u">test</tspan>), …, (z<tspan class="s">(m)</tspan><tspan class="u">test</tspan>, y<tspan class="s">(m)</tspan><tspan class="u">test</tspan>)}</text>
<text x="21.600" y="144" textLength="287">How about doing the whole thing without using PCA?</text>
<text x="21.600" y="164.700" textLength="350">Before implementing PCA, first try running whatever you want to</text>
<text x="21.600" y="180" textLength="157">do with the original/raw data</text><text class="m" x="181" y="180" style="font-size:11px">x<tspan class="s">(i)</tspan></text><text x="203" y="180" textLength="150">. Only if that doesn’t do what</text>
<text x="21.600" y="196" textLength="271">you want, then implement PCA and consider using</text><text class="m" x="298" y="196" style="font-size:11px">z<tspan class="s">(i)</tspan>.</text>
<text class="an" x="372" y="221">Andrew Ng</text>
</g></g>

<!-- Choosing k -->
<g id="slide-choosing-k" class="slide">
<rect class="fr" x="657.400" y="1013" width="399.600" height="224"/>
<g class="z" transform="translate(640 910) scale(.4592 .3333)">
<path class="ax" d="M472 430V950"/>
<path class="dk" d="M90 737H358"/>
<path class="hs" d="M270 515L330 490M270 518L328 510M90 530L70 535L72 790L90 790M80 685L360 675L350 778L85 785ZM72 843L100 795M85 800L100 793L102 812M108 793Q300 795 440 798M232 882Q270 875 303 870M362 682Q410 665 450 690Q490 730 520 735M505 720L520 735L505 745M487 447H505M497 441L506 447L497 453M560 422H583V467H560ZM572 490L775 490L778 635L580 622ZM575 480Q620 460 640 495L780 620Q790 640 760 635L590 510Q565 490 575 480ZM578 500L720 625M722 498a18 22 0 1 0 .1 0M628 568a17 23 0 1 0 .1 0M812 600L788 603M797 595L787 603L797 611M765 680V645M757 655L765 644L773 655M618 760H715M745 717H722M730 710L721 717L730 724M738 790H710M720 783L709 790L720 797M535 830L805 838Q825 850 818 945L535 965ZM505 835H555M545 828L556 835L545 842M550 907H645M728 932H803M487 903H512M503 896L513 903L503 910M105 625H155M160 630H180M360 745H380"/>
</g>
<g transform="translate(657.400 1013)">
<text class="t" x="21.600" y="30.700" style="font-size:13px">Choosing</text><text class="m" x="87" y="30" style="font-size:14px">k</text><text class="t" x="101" y="30.700" style="font-size:13px" textLength="219">(number of principal components)</text>
<text x="21.600" y="50" style="font-size:13px">Algorithm:</text>
<text x="21.600" y="68" style="font-size:13px">Try PCA with</text><text class="m" x="106" y="68" style="font-size:13px">k = 1</text>
<text x="21.600" y="87" style="font-size:13px">Compute</text><text class="m" x="86" y="87" style="font-size:12px" textLength="91">U<tspan class="u">reduce</tspan>, z<tspan class="s">(1)</tspan>, z<tspan class="s">(2)</tspan>,</text>
<text class="m" x="30" y="104.700" style="font-size:12px" textLength="150">…, z<tspan class="s">(m)</tspan>, x<tspan class="s">(1)</tspan><tspan class="u">approx</tspan>, …, x<tspan class="s">(m)</tspan><tspan class="u">approx</tspan></text>
<text x="21.600" y="124" style="font-size:13px">Check if</text>
<text class="m" x="27" y="138" style="font-size:10px" textLength="120">(1/m)Σ‖x<tspan class="s">(i)</tspan> − x<tspan class="s">(i)</tspan><tspan class="u">approx</tspan>‖<tspan class="s">2</tspan></text>
<text class="m" x="50" y="155.700" style="font-size:10px" textLength="72">(1/m)Σ‖x<tspan class="s">(i)</tspan>‖<tspan class="s">2</tspan></text>
<text class="m" x="150" y="148" style="font-size:11px">≤ 0.01?</text>
<text class="mono" x="219" y="51" style="font-size:12px" textLength="155">[U,S,V] = svd(Sigma)</text>
<text class="h" x="204" y="82" style="font-size:12px">→S =</text>
<text class="h" x="250" y="64" transform="rotate(35 250 64)" style="font-size:8px">S₁₁</text><text class="h" x="270" y="80" transform="rotate(35 270 80)" style="font-size:8px">S₂₂</text><text class="h" x="288" y="94" transform="rotate(35 288 94)" style="font-size:8px">S₃₃</text><text class="h" x="318" y="112" transform="rotate(35 318 112)" style="font-size:8px">Sₙₙ</text>
<text class="h" x="217" y="120" style="font-size:9px">For given k</text><text class="h" x="364" y="116" style="font-size:8px">k=3</text>
<text class="h" x="132" y="72" transform="rotate(-25 141 61)" style="font-size:9px">k=2 k=3</text><text class="h" x="166" y="63" style="font-size:6px">k=4</text>
<text class="h" x="84.500" y="184" style="font-size:12px">k=17</text>
<text class="h" x="232" y="150" style="font-size:14px">1 −</text>
<text class="h" x="270" y="139">Σ Sᵢᵢ</text><text class="h" x="270" y="164">Σ Sᵢᵢ</text>
<text class="h" x="343" y="154" style="font-size:11px">≤ 0.01</text>
<text class="h" x="240" y="187">Σ Sᵢᵢ</text><text class="h" x="240" y="212">Σ Sᵢᵢ</text>
<text class="h" x="295" y="202" style="font-size:11px">≥ 0.99</text>
<text class="an" x="371" y="222">Andrew Ng</text>
</g></g>

<!-- Data preprocessing -->
<g id="slide-preprocessing" class="slide">
<rect class="fr" x="505" y="1347.700" width="399.500" height="224.300"/>
<g class="z" transform="translate(480 1330) scale(.4082 .3333)">
<path class="hs" d="M598 182H566M582 170L565 182L582 194M535 255L790 245M185 265L162 270L155 400L170 410M172 420L150 425L148 548L162 555M355 412Q370 420 380 412M472 408H580M518 583H480M497 571L479 583L497 595M572 590H688M625 650L615 660M612 668H640"/>
<path class="dk" d="M260 312H280"/>
</g>
<g transform="translate(505 1347.700)">
<text class="t" x="22.400" y="28" style="font-size:12.500px">Data preprocessing</text>
<text x="22.400" y="48">Training set:</text><text class="m" x="94" y="48" style="font-size:12px" textLength="103">x<tspan class="s">(1)</tspan>, x<tspan class="s">(2)</tspan>, …, x<tspan class="s">(m)</tspan></text>
<text x="22.400" y="63.300" textLength="281">Preprocessing (feature scaling/mean normalization):</text>
<text class="m" x="47" y="89" style="font-size:12px">μ<tspan class="u">j</tspan> =</text><text class="m" x="83" y="84" style="font-size:11px">1</text><text class="m" x="80" y="100" style="font-size:11px">m</text><text class="m" x="95" y="94" style="font-size:24px">Σ</text><text class="m" x="102" y="72" style="font-size:7px">m</text><text class="m" x="99" y="106" style="font-size:7px">i=1</text><text class="m" x="117" y="89" style="font-size:12px">x<tspan class="s">(i)</tspan><tspan class="u">j</tspan></text>
<text x="46" y="117">Replace each</text><text class="m" x="119" y="117" style="font-size:12px">x<tspan class="s">(i)</tspan><tspan class="u">j</tspan></text><text x="141" y="117">with</text><text class="m" x="167" y="117" style="font-size:12px">x<tspan class="u">j</tspan> − μ<tspan class="u">j</tspan>.</text>
<text x="46" y="133" textLength="235">If different features on different scales (e.g.,</text><text class="m" x="285" y="133" style="font-size:12px">x<tspan class="u">1</tspan> =</text><text x="315" y="133" textLength="73">size of house,</text>
<text class="m" x="47" y="149" style="font-size:12px">x<tspan class="u">2</tspan> =</text><text x="76" y="149" textLength="309">number of bedrooms), scale features to have comparable</text>
<text x="46" y="164.700">range of values.</text>
<text class="h" x="142" y="182" style="font-size:12px">x⁽ⁱ⁾ⱼ</text>
<text class="h" x="209" y="172" style="font-size:11px">x⁽ⁱ⁾ⱼ - μⱼ</text>
<text class="h" x="225" y="196" style="font-size:11px">sⱼ</text>
<text class="an" x="372" y="222">Andrew Ng</text>
</g></g>

<!-- PCA algorithm -->
<g id="slide-algorithm" class="slide">
<rect class="fr" x="652.500" y="1706" width="398.900" height="225"/>
<g class="z" transform="translate(620 1690) scale(.4847 .3444)">
<path class="dk" d="M252 273H272"/>
<path class="hs" d="M162 312L190 290M175 288L191 289L186 302M318 240L443 235L447 330L320 332ZM312 240L332 230M312 240L322 250M458 295L475 305M600 355H625M615 347L626 355L615 363M685 425H725M147 397H175M165 389L176 397L165 405M190 375L520 372L518 418Q350 425 188 420ZM213 435V418M208 425L213 416L218 425M243 430V418M238 425L243 416L248 425M277 432V412M272 420L277 410L282 420M465 420Q475 445 505 448M493 187Q570 180 645 178M285 470L277 472L281 612L287 612M460 470L470 472L475 640L462 640M303 475V515M347 475V515M378 480V515M449 490V515M314 560V605M354 560V610M388 560V615M450 565V620M298 620Q300 630 345 628Q405 632 405 628M345 628V640M318 300Q350 305 372 298M380 300Q410 305 440 298"/>
</g>
<g transform="translate(652.500 1706)">
<text class="t" x="21.300" y="28.600" style="font-size:11.800px" textLength="253">Principal Component Analysis (PCA) algorithm</text>
<text x="21.300" y="44.800" style="font-size:11.800px">Reduce data from</text><text class="m" x="118" y="44.800">n</text><text x="125" y="44.800" style="font-size:11.800px">-dimensions to</text><text class="m" x="204" y="44.800">k</text><text x="211" y="44.800" style="font-size:11.800px" textLength="70">-dimensions</text>
<text x="21.300" y="60.300" style="font-size:11.800px" textLength="163">Compute “covariance matrix”:</text>
<text class="m" x="63" y="82" style="font-size:12px">Σ =</text><text class="m" x="90" y="78" style="font-size:10px">1</text><text class="m" x="88" y="92" style="font-size:10px">m</text><text class="m" x="104" y="88" style="font-size:22px">Σ</text><text class="m" x="104" y="98" style="font-size:6px">i=1</text><text class="m" x="122" y="82" style="font-size:12px">(x<tspan class="s">(i)</tspan>)(x<tspan class="s">(i)</tspan>)<tspan class="s">T</tspan></text>
<text class="mono" x="63" y="123" style="font-size:11.500px;fill:#444" textLength="149">[U,S,V] = svd(Sigma);</text>
<text x="21.300" y="108.500" style="font-size:11.800px" textLength="203">Compute “eigenvectors” of matrix Σ:</text>
<text x="92" y="78" style="font-size:15px;fill:#e01010;font-weight:700;font-style:italic" transform="rotate(-70 100 70)">n×n</text>
<text class="h" x="115" y="95" style="font-size:5.500px">n×1</text><text class="h" x="148" y="93" style="font-size:5.500px">1×n</text><text class="h" x="199" y="91" style="font-size:8px">n×n</text>
<text class="h" x="227" y="82">Sigma</text>
<text class="h" x="258" y="108" style="font-size:9px" textLength="122">Singular value decomposition</text>
<text class="h" x="300" y="125" style="font-size:9px">eig(Sigma)</text>
<text class="h" x="219" y="140" style="font-size:8px">n×n matrix.</text>
<text class="h" x="64" y="176" style="font-size:17px">U =</text>
<text class="h" x="112" y="172" style="font-size:7.500px" textLength="80">u⁽¹⁾ u⁽²⁾ u⁽³⁾ … u⁽ᵐ⁾</text>
<text class="h" x="131" y="213">k</text>
<text class="h" x="236" y="176" style="font-size:13px">U∈ℝⁿˣⁿ</text>
<text class="h" x="238" y="197" style="font-size:11px">u⁽¹⁾,…, u⁽ᵏ⁾</text>
<text class="an" x="372" y="222">Andrew Ng</text>
</g></g>

<!-- PCA summary -->
<g id="slide-summary" class="slide">
<rect class="fr" x="652.500" y="1985" width="398.900" height="225"/>
<g class="z" transform="translate(620 1690) scale(.4847 .3444)">
<path class="hs" d="M82 1017H105M95 1010L106 1017L95 1024M82 1243H107M97 1236L108 1243L97 1250M80 1288H104M94 1281L105 1288L94 1295M80 1336H105M95 1329L106 1336L95 1343M458 1088Q560 1095 650 1085M238 1215H440M472 1170L452 1180L472 1190M495 1148Q540 1140 590 1245M575 1230L591 1247L592 1225M590 1190H612M668 1105L660 1105V1190L678 1193M820 1103H838L843 1198H825M600 1220H860V1282H600ZM566 1268H595M585 1261L596 1268L585 1275M116 1378V1360M110 1368L116 1358L122 1368M335 1378V1358M329 1367L335 1356L341 1367M530 1410L578 1368M530 1365L578 1405M690 1122H720M778 1120H812M700 1188H725M795 1190H818"/>
<path class="dk" d="M248 1150H272"/>
</g>
<g transform="translate(652.500 1985)">
<text class="t" x="21" y="30.600" style="font-size:14px" textLength="359">Principal Component Analysis (PCA) algorithm summary</text>
<text x="21" y="60" style="font-size:13.300px" textLength="325">After mean normalization (ensure every feature has</text>
<text x="21" y="78" style="font-size:13.300px" textLength="264">zero mean) and optionally feature scaling:</text>
<text class="mono" x="21" y="104.700" style="font-size:12px">Sigma =</text>
<text class="m" x="88" y="99" style="font-size:11px">1</text><text class="m" x="87" y="112" style="font-size:11px">m</text><text class="m" x="103" y="112" style="font-size:26px">Σ</text><text class="m" x="110" y="88" style="font-size:7px">m</text><text class="m" x="107" y="122" style="font-size:7px">i=1</text>
<text class="m" x="123" y="104.700" style="font-size:13px">(x<tspan class="s">(i)</tspan>)(x<tspan class="s">(i)</tspan>)<tspan class="s">T</tspan></text>
<text class="mono" x="23" y="136.700" style="font-size:12px" textLength="164">[U,S,V] = svd(Sigma);</text>
<text class="mono" x="21" y="153" style="font-size:12px" textLength="150">Ureduce = U(:,1:k);</text>
<text class="mono" x="21" y="168.400" style="font-size:12px" textLength="118">z = Ureduce’*x;</text>
<text class="h" x="250" y="109" style="font-size:20px">X</text><text class="h" x="268" y="105">=</text>
<text class="h" x="322" y="92" style="font-size:7px">x⁽¹⁾ᵀ</text><text class="h" x="327" y="105" style="font-size:9px">⋮</text><text class="h" x="326" y="116" style="font-size:7px">x⁽ᵐ⁾ᵀ</text>
<text class="h" x="262" y="139" style="font-size:10.500px" textLength="118">Sigma=(1/m)*X'*X;</text>
<text class="h" x="165" y="186" style="font-size:11px">x∈ℝⁿ</text><text class="h" x="224" y="186" style="font-size:11px">x₀</text>
<text class="an" x="372" y="222">Andrew Ng</text>
</g></g>
</svg>
